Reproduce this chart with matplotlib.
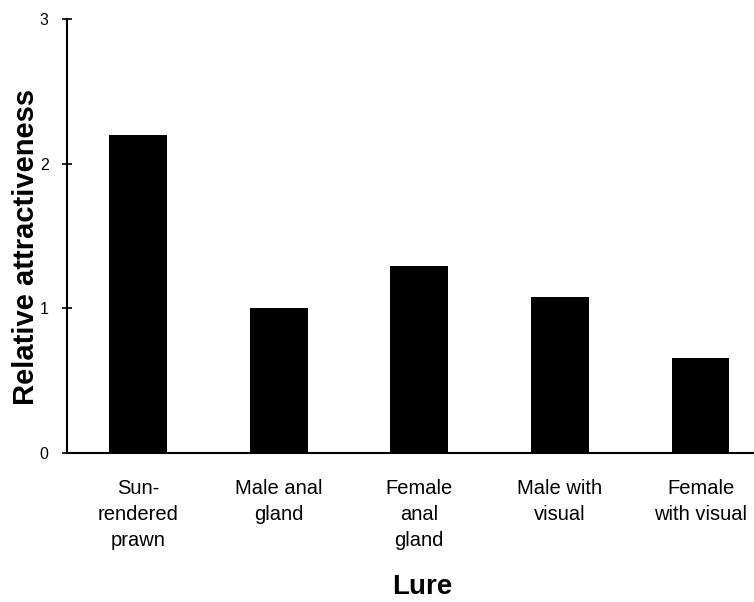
import numpy as np
import matplotlib
matplotlib.use("Agg")
import matplotlib.pyplot as plt

plt.rcParams['font.family'] = ['Liberation Sans', 'DejaVu Sans']

# data
lures = ['Sun-\nrendered\nprawn', 'Male anal\ngland', 'Female\nanal\ngland',
         'Male with\nvisual', 'Female\nwith visual']
attractiveness = [2.20, 1.00, 1.29, 1.08, 0.66]
y_ticks = [0, 1, 2, 3]

fig = plt.figure(figsize=(7.54, 6.02), dpi=100)
ax = fig.add_axes([0.0889, 0.2475, 0.9111, 0.7205])

x = np.arange(len(lures))
ax.bar(x, attractiveness, width=0.41, color='black')

ax.set_xlim(-0.505, 4.38)
ax.set_ylim(0, 3)
ax.set_yticks(y_ticks)
ax.set_yticklabels([str(t) for t in y_ticks], fontsize=11.5)
ax.tick_params(axis='y', direction='inout', length=6.5, width=1.2, pad=10)

ax.set_xticks(x)
ax.set_xticklabels(lures, fontsize=14.5, linespacing=1.47, va='top')
ax.tick_params(axis='x', length=0, pad=19)

for side in ['top', 'right']:
    ax.spines[side].set_visible(False)
ax.spines['left'].set_linewidth(1.5)
ax.spines['bottom'].set_linewidth(1.5)

fig.text(0.034, 0.589, 'Relative attractiveness', rotation=90, fontsize=21,
         fontweight='bold', ha='center', va='center')
fig.text(0.56, 0.003, 'Lure', fontsize=20, fontweight='bold',
         ha='center', va='bottom')

fig.savefig('out.png', dpi=100)
